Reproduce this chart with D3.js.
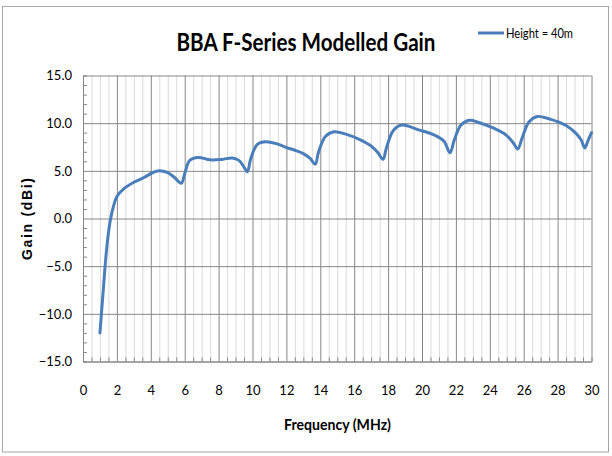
<!DOCTYPE html>
<html>
<head>
<meta charset="utf-8">
<script src="https://cdn.jsdelivr.net/npm/d3@7"></script>
<style>
  html, body { margin: 0; padding: 0; background: #fff; }
  svg { display: block; }
  text { font-family: "Liberation Sans Narrow", Lato, "DejaVu Sans Condensed", sans-serif; fill: #000; }
</style>
</head>
<body>
<svg id="chart" width="612" height="456"></svg>
<script>
// ---- Data ----
const freqMHz = [1.0, 1.2, 1.4, 1.6, 1.8, 2.0, 2.4, 3.0, 3.6, 4.1, 4.5, 5.0, 5.4, 5.8, 6.0, 6.3, 6.8,
  7.5, 8.2, 8.8, 9.2, 9.5, 9.7, 9.9, 10.3, 10.8, 11.4, 12.0, 12.6, 13.0, 13.4, 13.7, 13.9, 14.3, 14.8,
  15.5, 16.3, 17.0, 17.4, 17.7, 17.9, 18.3, 18.8, 19.8, 20.8, 21.3, 21.65, 21.9, 22.3, 22.8, 23.3,
  24.2, 25.0, 25.4, 25.65, 25.9, 26.3, 26.8, 27.5, 28.5, 29.1, 29.4, 29.6, 29.8, 30.0];
const gainDBi = [-12.0, -7.4, -3.1, -0.3, 1.3, 2.3, 3.1, 3.8, 4.3, 4.8, 5.0, 4.8, 4.3, 3.7, 4.7, 6.1, 6.4,
  6.15, 6.2, 6.35, 6.1, 5.4, 4.9, 6.3, 7.8, 8.05, 7.85, 7.45, 7.1, 6.8, 6.3, 5.7, 7.0, 8.6, 9.1,
  8.85, 8.3, 7.6, 6.9, 6.2, 7.4, 9.2, 9.8, 9.3, 8.7, 8.1, 6.9, 8.2, 9.8, 10.3, 10.1,
  9.5, 8.7, 7.9, 7.3, 8.4, 10.1, 10.7, 10.45, 9.75, 8.9, 8.2, 7.4, 8.2, 9.0];
const xTicks = [0, 2, 4, 6, 8, 10, 12, 14, 16, 18, 20, 22, 24, 26, 28, 30];
const yTicks = [-15, -10, -5, 0, 5, 10, 15];
const seriesName = "Height = 40m";
const chartTitle = "BBA F-Series Modelled Gain";
const xTitle = "Frequency (MHz)";
const yTitle = "Gain (dBi)";

// ---- Layout ----
const svg = d3.select("#chart");
const L = 83, R = 591.5, T = 75.5, B = 361.5;
const x = d3.scaleLinear().domain([0, 30]).range([L, R]);
const y = d3.scaleLinear().domain([-15, 15]).range([B, T]);
const majorGrid = "#878787", minorGrid = "#dadada", lineColor = "#4a7ebb";

// outer chart border
svg.append("rect").attr("x", 2.5).attr("y", 6.5).attr("width", 606).attr("height", 445.5)
  .attr("fill", "#fff").attr("stroke", "#a6a6a6").attr("stroke-width", 1);

// minor vertical gridlines every 0.5 MHz
const minorX = d3.range(0, 30.01, 0.5).filter(v => Math.abs(v % 2) > 1e-6);
svg.append("g").attr("transform", `translate(0,${B})`)
  .call(d3.axisBottom(x).tickValues(minorX).tickSize(-(B - T)).tickFormat(""))
  .call(g => g.select(".domain").remove())
  .call(g => g.selectAll("line").attr("stroke", minorGrid).attr("stroke-width", 1));

// major vertical gridlines
svg.append("g").attr("transform", `translate(0,${B})`)
  .call(d3.axisBottom(x).tickValues(xTicks).tickSize(-(B - T)).tickFormat(""))
  .call(g => g.select(".domain").remove())
  .call(g => g.selectAll("line").attr("stroke", majorGrid).attr("stroke-width", 1));

// major horizontal gridlines
svg.append("g").attr("transform", `translate(${L},0)`)
  .call(d3.axisLeft(y).tickValues(yTicks).tickSize(-(R - L)).tickFormat(""))
  .call(g => g.select(".domain").remove())
  .call(g => g.selectAll("line").attr("stroke", majorGrid).attr("stroke-width", 1));

// minor tick marks (inside) on y-axis every 1 dB
const minorY = d3.range(-15, 15.01, 1).filter(v => v % 5 !== 0);
svg.append("g").attr("transform", `translate(${L},0)`)
  .call(d3.axisLeft(y).tickValues(minorY).tickSize(-4).tickFormat(""))
  .call(g => g.select(".domain").attr("stroke", majorGrid))
  .call(g => g.selectAll("line").attr("stroke", majorGrid));

// minor tick marks (inside) on x-axis every 0.5 MHz
svg.append("g").attr("transform", `translate(0,${B})`)
  .call(d3.axisBottom(x).tickValues(minorX).tickSize(-4).tickFormat(""))
  .call(g => g.select(".domain").attr("stroke", majorGrid))
  .call(g => g.selectAll("line").attr("stroke", majorGrid));

// tick labels
svg.append("g").attr("transform", `translate(0,${B})`)
  .call(d3.axisBottom(x).tickValues(xTicks).tickSize(0).tickPadding(24).tickFormat(d3.format("d")))
  .call(g => g.select(".domain").remove())
  .call(g => g.selectAll("text").attr("font-size", 13).attr("fill", "#000")
    .style("font-family", "'Liberation Sans Narrow', Lato, sans-serif"));

svg.append("g").attr("transform", `translate(${L},0)`)
  .call(d3.axisLeft(y).tickValues(yTicks).tickSize(0).tickPadding(11).tickFormat(d3.format(".1f")))
  .call(g => g.select(".domain").remove())
  .call(g => g.selectAll("text").attr("font-size", 13).attr("fill", "#000")
    .style("font-family", "'Liberation Sans Narrow', Lato, sans-serif"));

// data line
const pts = freqMHz.map((f, i) => [f, gainDBi[i]]);
svg.append("path").datum(pts)
  .attr("fill", "none").attr("stroke", lineColor).attr("stroke-width", 3)
  .attr("stroke-linejoin", "round").attr("stroke-linecap", "round")
  .attr("d", d3.line().x(d => x(d[0])).y(d => y(d[1])).curve(d3.curveCatmullRom.alpha(0.5)));

// title
svg.append("text").attr("x", 306).attr("y", 51).attr("text-anchor", "middle")
  .attr("font-size", 25).attr("font-weight", "bold")
  .attr("textLength", 259).attr("lengthAdjust", "spacingAndGlyphs").text(chartTitle);

// legend
svg.append("line").attr("x1", 478).attr("x2", 504).attr("y1", 33).attr("y2", 33)
  .attr("stroke", lineColor).attr("stroke-width", 3);
svg.append("text").attr("x", 506).attr("y", 37.5).attr("font-size", 12.5)
  .attr("textLength", 67).attr("lengthAdjust", "spacingAndGlyphs").text(seriesName);

// axis titles
svg.append("text").attr("x", 337.5).attr("y", 430).attr("text-anchor", "middle")
  .attr("font-size", 15.5).attr("font-weight", "bold")
  .attr("textLength", 107).attr("lengthAdjust", "spacingAndGlyphs").text(xTitle);

svg.append("text").attr("transform", "translate(32,219) rotate(-90)").attr("text-anchor", "middle")
  .attr("font-size", 14).attr("font-weight", "bold")
  .style("font-family", "'Liberation Sans', Arial, sans-serif")
  .attr("textLength", 82).attr("lengthAdjust", "spacing").text(yTitle);
</script>
</body>
</html>
